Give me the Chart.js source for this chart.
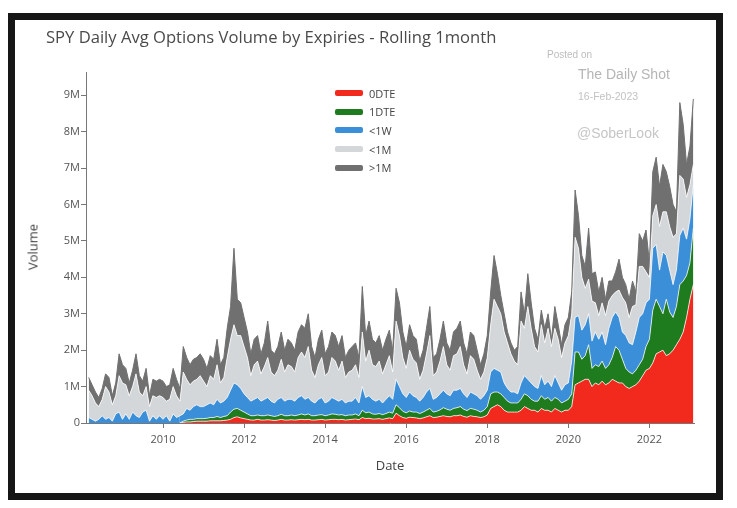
<!DOCTYPE html>
<html>
<head>
<meta charset="utf-8">
<script src="https://cdn.jsdelivr.net/npm/chart.js@4.4.0/dist/chart.umd.min.js"></script>
<style>
  body { margin: 0; width: 737px; height: 508px; background: #fff; position: relative; overflow: hidden; font-family: "Open Sans", sans-serif; }
  #frame { position: absolute; left: 8px; top: 13px; width: 715px; height: 487px; box-sizing: border-box; border: 7px solid #161616; }
  #chart { position: absolute; left: 0; top: 0; }
  .txt { position: absolute; white-space: nowrap; line-height: 1; }
  #title { left: 46px; top: 29px; font-size: 16.6px; color: #4a4a4a; }
  #xTitle { left: 390px; top: 459px; font-size: 13px; color: #444; transform: translateX(-50%); }
  #yTitle { left: 33px; top: 247px; font-size: 13px; color: #444; transform: translate(-50%, -50%) rotate(-90deg); }
  .wm { font-family: "Liberation Sans", Arial, sans-serif; }
  #posted { left: 547px; top: 50px; font-size: 10px; color: #bdbdbd; }
  #shot { left: 578px; top: 67px; font-size: 14px; color: #b5b5b5; }
  #date { left: 578px; top: 91px; font-size: 10.5px; color: #c2c2c2; }
  #sober { left: 577px; top: 126px; font-size: 14px; color: #c6c6c6; }
  .legItem { position: absolute; left: 335px; height: 14px; display: flex; align-items: center; }
  .legItem .sw { width: 28px; height: 6px; margin-right: 6px; border-radius: 2px; }
  .legItem span { font-size: 11px; color: #444; }
</style>
</head>
<body>
<div id="frame"></div>
<canvas id="chart" width="737" height="508"></canvas>
<div class="txt" id="title">SPY Daily Avg Options Volume by Expiries - Rolling 1month</div>
<div class="txt" id="xTitle">Date</div>
<div class="txt" id="yTitle">Volume</div>
<div class="txt wm" id="posted">Posted on</div>
<div class="txt wm" id="shot">The Daily Shot</div>
<div class="txt wm" id="date">16-Feb-2023</div>
<div class="txt wm" id="sober">@SoberLook</div>
<div id="legend"></div>
<script>
// monthly points, Mar 2008 .. Feb 2023 (values in millions of contracts)
const seriesNames = ["0DTE", "1DTE", "<1W", "<1M", ">1M"];
const seriesColors = ["#f22a1e", "#1e7b1e", "#3b8fd9", "#d4d7da", "#707070"];

const odte = [
  0, 0, 0, 0, 0, 0, 0, 0, 0, 0,
  0, 0, 0, 0, 0, 0, 0, 0, 0, 0, 0, 0,
  0, 0, 0, 0, 0, 0, 0.02, 0.03, 0.03, 0.04, 0.05, 0.05,
  0.05, 0.05, 0.06, 0.06, 0.06, 0.06, 0.07, 0.08, 0.1, 0.15, 0.17, 0.14,
  0.12, 0.1, 0.08, 0.08, 0.1, 0.08, 0.08, 0.09, 0.08, 0.07, 0.08, 0.1,
  0.08, 0.08, 0.09, 0.08, 0.09, 0.1, 0.09, 0.1, 0.08, 0.08, 0.09, 0.1,
  0.08, 0.09, 0.1, 0.1, 0.09, 0.1, 0.08, 0.09, 0.1, 0.11, 0.09, 0.15,
  0.12, 0.13, 0.11, 0.11, 0.12, 0.1, 0.12, 0.14, 0.12, 0.27, 0.2, 0.15,
  0.13, 0.16, 0.15, 0.14, 0.12, 0.14, 0.17, 0.2, 0.15, 0.16, 0.18, 0.2,
  0.18, 0.17, 0.2, 0.2, 0.22, 0.18, 0.16, 0.2, 0.18, 0.17, 0.15, 0.17,
  0.22, 0.4, 0.45, 0.5, 0.45, 0.35, 0.3, 0.3, 0.3, 0.3, 0.35, 0.45,
  0.4, 0.35, 0.35, 0.3, 0.4, 0.35, 0.35, 0.3, 0.4, 0.35, 0.3, 0.35,
  0.35, 0.45, 1.05, 1.1, 1.15, 1.2, 1.2, 1.0, 1.1, 1.05, 1.15, 1.05,
  1.1, 1.2, 1.15, 1.1, 1.1, 1.0, 0.95, 1.0, 1.05, 1.15, 1.3, 1.45,
  1.5, 1.65, 1.9, 1.95, 2.0, 1.85, 1.9, 2.0, 2.15, 2.3, 2.5, 2.9,
  3.4, 3.8
];
const dte1 = [
  0, 0, 0, 0, 0, 0, 0, 0, 0, 0,
  0, 0, 0, 0, 0, 0, 0, 0, 0, 0, 0, 0,
  0, 0, 0, 0, 0, 0, 0.03, 0.05, 0.07, 0.06, 0.07, 0.07,
  0.07, 0.08, 0.09, 0.09, 0.12, 0.09, 0.11, 0.12, 0.2, 0.23, 0.23, 0.21,
  0.18, 0.15, 0.12, 0.12, 0.12, 0.12, 0.12, 0.13, 0.12, 0.11, 0.12, 0.14,
  0.12, 0.12, 0.13, 0.12, 0.13, 0.15, 0.13, 0.15, 0.12, 0.12, 0.13, 0.13,
  0.12, 0.13, 0.15, 0.14, 0.13, 0.13, 0.12, 0.13, 0.12, 0.14, 0.11, 0.2,
  0.16, 0.17, 0.14, 0.13, 0.14, 0.13, 0.14, 0.16, 0.15, 0.23, 0.22, 0.17,
  0.15, 0.17, 0.15, 0.16, 0.14, 0.16, 0.18, 0.2, 0.15, 0.16, 0.18, 0.22,
  0.2, 0.18, 0.2, 0.22, 0.23, 0.2, 0.18, 0.2, 0.2, 0.18, 0.15, 0.18,
  0.23, 0.4, 0.4, 0.35, 0.35, 0.35, 0.3, 0.25, 0.25, 0.25, 0.3, 0.35,
  0.35, 0.3, 0.25, 0.3, 0.35, 0.3, 0.35, 0.3, 0.3, 0.3, 0.25, 0.25,
  0.3, 0.35, 0.9, 0.85, 0.6, 0.65, 0.95, 0.5, 0.5, 0.5, 0.55, 0.45,
  0.5, 0.6, 0.95, 0.9, 0.65, 0.5, 0.45, 0.35, 0.4, 0.45, 0.45, 0.65,
  0.8, 1.45, 1.5, 1.25, 1.0, 1.55, 1.15, 0.9, 1.05, 1.5, 1.4, 1.15,
  1.0, 1.55
];
const under1w = [
  0.15, 0.1, 0.05, 0.1, 0.2, 0.1, 0.15, 0.05, 0.25, 0.3,
  0.1, 0.25, 0.1, 0.3, 0.2, 0.15, 0.3, 0.35, 0.05, 0.2, 0.1, 0.2,
  0.1, 0.2, 0.05, 0.25, 0.15, 0.2, 0.2, 0.32, 0.25, 0.35, 0.38, 0.33,
  0.33, 0.37, 0.4, 0.35, 0.47, 0.4, 0.42, 0.5, 0.6, 0.72, 0.65, 0.6,
  0.5, 0.45, 0.4, 0.45, 0.48, 0.4, 0.45, 0.48, 0.4, 0.37, 0.45, 0.46,
  0.4, 0.45, 0.43, 0.4, 0.48, 0.5, 0.43, 0.45, 0.4, 0.35, 0.43, 0.47,
  0.35, 0.38, 0.45, 0.41, 0.38, 0.42, 0.35, 0.38, 0.38, 0.45, 0.35, 0.65,
  0.42, 0.45, 0.4, 0.36, 0.39, 0.32, 0.39, 0.45, 0.38, 0.7, 0.58, 0.48,
  0.42, 0.52, 0.45, 0.4, 0.34, 0.4, 0.5, 0.55, 0.35, 0.38, 0.44, 0.48,
  0.42, 0.4, 0.5, 0.48, 0.5, 0.42, 0.36, 0.45, 0.42, 0.4, 0.35, 0.4,
  0.45, 0.6, 0.65, 0.6, 0.6, 0.4, 0.35, 0.3, 0.3, 0.25, 0.45, 0.5,
  0.45, 0.45, 0.4, 0.35, 0.55, 0.4, 0.45, 0.4, 0.6, 0.45, 0.35, 0.45,
  0.45, 0.9, 0.95, 1.0, 0.8, 0.85, 0.85, 0.75, 0.9, 0.75, 0.8, 0.65,
  1.0, 1.1, 0.95, 0.9, 0.75, 0.9, 0.8, 0.8, 1.05, 1.3, 1.25, 1.2,
  1.1, 1.7, 1.5, 1.0, 1.7, 1.2, 1.15, 0.9, 1.0, 1.35, 1.45, 1.0,
  1.2, 1.2
];
const under1m = [
  0.75, 0.65, 0.5, 0.35, 0.45, 0.9, 0.7, 0.45, 0.5, 1.0,
  1.0, 0.8, 0.65, 0.7, 1.15, 0.7, 0.45, 0.65, 0.4, 0.55, 0.6, 0.55,
  0.6, 0.4, 0.6, 0.75, 0.6, 0.4, 1.15, 0.8, 0.7, 0.7, 0.7, 0.85,
  0.7, 0.5, 0.75, 0.7, 0.95, 0.55, 0.65, 1.1, 1.4, 1.6, 1.35, 1.45,
  1.3, 1.1, 0.7, 0.95, 1.0, 0.75, 0.9, 1.1, 0.8, 0.75, 0.8, 1.05,
  0.8, 0.95, 0.9, 0.8, 1.1, 1.2, 1.15, 1.4, 0.85, 0.7, 0.95, 1.1,
  0.75, 0.8, 1.1, 1.05, 0.85, 1.05, 0.7, 0.8, 0.85, 0.9, 0.7, 1.5,
  1.0, 1.25, 0.95, 0.95, 1.05, 0.8, 0.95, 1.1, 0.75, 1.6, 1.4, 1.0,
  0.8, 1.15, 1.0, 0.95, 0.6, 0.75, 1.05, 1.45, 0.65, 0.7, 0.9, 1.2,
  0.8, 0.7, 0.95, 1.0, 1.15, 0.8, 0.65, 1.0, 0.95, 0.7, 0.55, 0.65,
  0.9, 1.3, 1.9, 1.75, 1.6, 1.4, 1.25, 1.05, 0.85, 0.8, 1.7, 1.3,
  2.0, 1.5, 1.1, 1.0, 1.4, 1.15, 1.45, 1.1, 1.3, 1.2, 0.9, 1.15,
  1.3, 1.3, 2.2, 1.85, 1.45, 1.0, 0.95, 1.1, 0.8, 0.65, 0.8, 0.8,
  0.75, 0.6, 0.55, 0.75, 0.95, 0.9, 0.7, 1.05, 0.75, 1.4, 1.3, 0.85,
  0.6, 0.9, 1.1, 1.2, 1.1, 1.2, 1.2, 1.3, 1.0, 1.65, 1.35, 1.15,
  0.95, 0.55
];
const over1m = [
  0.35, 0.3, 0.3, 0.25, 0.3, 0.35, 0.4, 0.25, 0.35, 0.6,
  0.5, 0.45, 0.35, 0.45, 0.55, 0.45, 0.4, 0.5, 0.3, 0.45, 0.45, 0.45,
  0.45, 0.4, 0.4, 0.5, 0.45, 0.35, 0.7, 0.6, 0.55, 0.6, 0.6, 0.6,
  0.6, 0.5, 0.55, 0.55, 0.7, 0.5, 0.55, 0.8, 0.9, 2.1, 1.0, 0.9,
  0.8, 0.7, 0.6, 0.7, 0.7, 0.55, 0.65, 1.0, 0.6, 0.6, 0.65, 0.75,
  0.6, 0.7, 0.65, 0.6, 0.7, 0.75, 0.8, 0.9, 0.65, 0.55, 0.7, 0.75,
  0.6, 0.7, 0.7, 0.7, 0.65, 0.7, 0.55, 0.6, 0.65, 0.6, 0.55, 1.25,
  0.7, 0.8, 0.7, 0.65, 0.7, 0.65, 0.7, 0.7, 0.6, 0.9, 0.9, 0.7,
  0.6, 0.7, 0.65, 0.65, 0.5, 0.55, 0.7, 0.8, 0.5, 0.5, 0.6, 0.7,
  0.6, 0.55, 0.65, 0.7, 0.7, 0.6, 0.55, 0.65, 0.65, 0.55, 0.4, 0.5,
  0.6, 0.9, 1.2, 0.9, 0.5, 0.5, 0.3, 0.3, 0.3, 0.5, 0.8, 0.4,
  0.9, 0.7, 0.5, 0.35, 0.4, 0.4, 0.4, 0.2, 0.6, 0.4, 0.35, 0.5,
  0.5, 0.6, 1.3, 0.9, 0.6, 0.6, 1.4, 0.75, 0.85, 0.65, 0.7, 0.45,
  0.55, 0.4, 0.55, 0.85, 0.55, 0.5, 0.5, 0.7, 0.35, 0.9, 0.7, 1.15,
  0.4, 1.2, 1.3, 1.1, 1.3, 1.1, 1.1, 0.9, 0.6, 2.0, 1.5, 0.9,
  1.05, 1.8
];

const xTicks = [2010, 2012, 2014, 2016, 2018, 2020, 2022];
const yTicks = [0, 1, 2, 3, 4, 5, 6, 7, 8, 9];

// month labels "YYYY-MM" starting Mar 2008
const months = [];
for (let y = 2008, m = 3; months.length < odte.length; m++) {
  if (m > 12) { m = 1; y++; }
  months.push(y + "-" + String(m).padStart(2, "0"));
}
const toYear = (s) => +s.slice(0, 4) + (+s.slice(5) - 1) / 12;

function buildLegend() {
  const box = document.getElementById("legend");
  seriesNames.forEach((name, i) => {
    const row = document.createElement("div");
    row.className = "legItem";
    row.style.top = (86 + i * 18.7) + "px";
    row.innerHTML = '<div class="sw" style="background:' + seriesColors[i] + '"></div><span></span>';
    row.querySelector("span").textContent = name;
    box.appendChild(row);
  });
}

function chart() {
  const values = [odte, dte1, under1w, under1m, over1m];
  const datasets = values.map((vals, i) => ({
    label: seriesNames[i],
    data: vals.map((v, k) => ({ x: toYear(months[k]), y: v })),
    backgroundColor: seriesColors[i],
    borderColor: i === 4 ? seriesColors[i] : "rgba(255,255,255,0.75)",
    borderWidth: 1,
    fill: i === 0 ? "origin" : "-1",
    pointRadius: 0,
    tension: 0,
    segment: {
      borderColor: (c) => (c.p0.parsed.y === 0 && c.p1.parsed.y === 0 ? "transparent" : undefined),
    },
  }));

  new Chart(document.getElementById("chart").getContext("2d"), {
    type: "line",
    data: { datasets },
    options: {
      responsive: false,
      animation: false,
      devicePixelRatio: 1,
      layout: { padding: { left: 36, right: 43, top: 72, bottom: 45 } },
      plugins: { legend: { display: false }, tooltip: { enabled: false } },
      scales: {
        x: {
          type: "linear",
          min: 2008.1,
          max: 2023.1,
          afterBuildTicks: (s) => { s.ticks = xTicks.map((v) => ({ value: v })); },
          afterFit: (s) => { s.height = 40; },
          ticks: { autoSkip: false, maxRotation: 0, padding: 5, color: "#555",
            font: { family: "Open Sans", size: 11 }, callback: (v) => String(v) },
          grid: { drawOnChartArea: false, tickLength: 5, color: "#777" },
          border: { color: "#777" },
        },
        y: {
          stacked: true,
          min: 0,
          max: 9.64,
          afterBuildTicks: (s) => { s.ticks = yTicks.map((v) => ({ value: v })); },
          afterFit: (s) => { s.width = 50; },
          ticks: { padding: 1, color: "#555", font: { family: "Open Sans", size: 11 },
            callback: (v) => (v === 0 ? "0" : v + "M") },
          grid: { drawOnChartArea: false, tickLength: 5, color: "#777" },
          border: { color: "#777" },
        },
      },
    },
  });
}

buildLegend();
chart();
</script>
</body>
</html>
